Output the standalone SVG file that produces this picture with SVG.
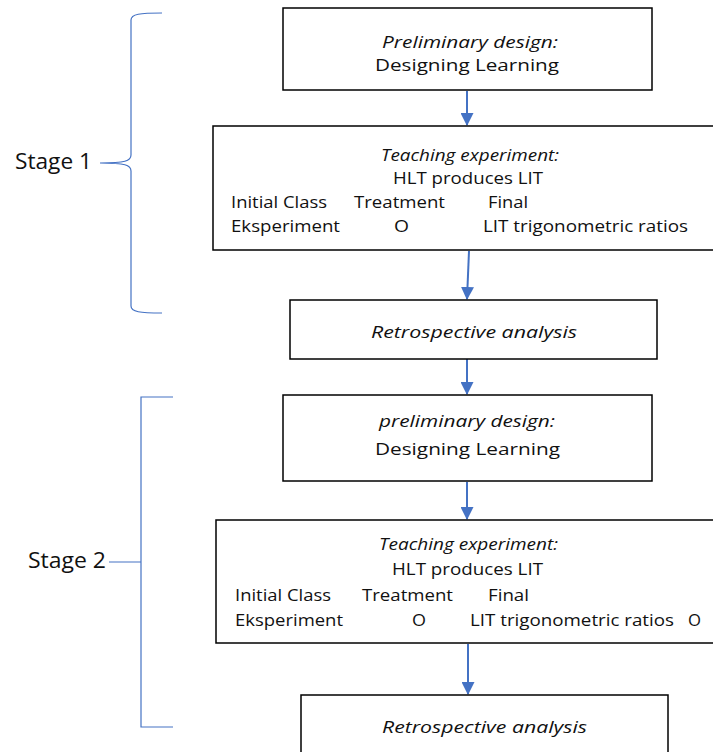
<svg xmlns="http://www.w3.org/2000/svg" width="713" height="752" viewBox="0 0 713 752">
<style>
.box{fill:#fff;stroke:#000;stroke-width:1.5}
.t{font-family:"Open Sans","Noto Sans",sans-serif;font-size:17px;fill:#111}
.s{font-size:22px}
.i{font-style:italic}
.arr{stroke:#4472C4;stroke-width:2;fill:none;marker-end:url(#ah)}
.br{stroke:#4472C4;stroke-width:1.2;fill:none}
</style>
<defs>
<marker id="ah" markerWidth="13" markerHeight="13" refX="12" refY="6.5" orient="auto" markerUnits="userSpaceOnUse">
<path d="M0,0 L13,6.5 L0,13 Z" fill="#4472C4"/>
</marker>
</defs>
<g id="connectors">
<line class="arr" x1="467" y1="91" x2="467" y2="125"/>
<line class="arr" x1="469" y1="251" x2="467" y2="299"/>
<line class="arr" x1="467" y1="354" x2="467" y2="394"/>
<line class="arr" x1="467" y1="482" x2="467" y2="519"/>
<line class="arr" x1="468" y1="644" x2="468" y2="694"/>
</g>
<g id="brace1">
<path class="br" d="M162,13 C140,13 131,14 131,20 L131,155 C131,161 125,163 100,163 C125,163 131,165 131,171 L131,306 C131,312 140,313 162,313"/>
<text class="t s" x="15" y="169" textLength="77" lengthAdjust="spacingAndGlyphs">Stage 1</text>
</g>
<g id="bracket2">
<path class="br" d="M173,397 L141,397 L141,727 L173,727 M141,562 L109,562"/>
<text class="t s" x="28" y="568" textLength="78" lengthAdjust="spacingAndGlyphs">Stage 2</text>
</g>
<g id="n1">
<rect class="box" x="283" y="8" width="369" height="82"/>
<text class="t i" x="382" y="48" textLength="176" lengthAdjust="spacingAndGlyphs">Preliminary design:</text>
<text class="t" x="375" y="71" textLength="184" lengthAdjust="spacingAndGlyphs">Designing Learning</text>
</g>
<g id="n2">
<rect class="box" x="213" y="126" width="510" height="124"/>
<text class="t i" x="381" y="161" textLength="178" lengthAdjust="spacingAndGlyphs">Teaching experiment:</text>
<text class="t" x="393" y="184" textLength="150" lengthAdjust="spacingAndGlyphs">HLT produces LIT</text>
<text class="t" x="231" y="208" textLength="96" lengthAdjust="spacingAndGlyphs">Initial Class</text>
<text class="t" x="354" y="208" textLength="91" lengthAdjust="spacingAndGlyphs">Treatment</text>
<text class="t" x="488" y="208" textLength="40" lengthAdjust="spacingAndGlyphs">Final</text>
<text class="t" x="231" y="232" textLength="109" lengthAdjust="spacingAndGlyphs">Eksperiment</text>
<text class="t" x="394" y="232" textLength="15" lengthAdjust="spacingAndGlyphs">O</text>
<text class="t" x="483" y="232" textLength="205" lengthAdjust="spacingAndGlyphs">LIT trigonometric ratios</text>
</g>
<g id="n3">
<rect class="box" x="290" y="300" width="367" height="59"/>
<text class="t i" x="371" y="338" textLength="206" lengthAdjust="spacingAndGlyphs">Retrospective analysis</text>
</g>
<g id="n4">
<rect class="box" x="283" y="395" width="369" height="86"/>
<text class="t i" x="379" y="427" textLength="176" lengthAdjust="spacingAndGlyphs">preliminary design:</text>
<text class="t" x="375" y="455" textLength="185" lengthAdjust="spacingAndGlyphs">Designing Learning</text>
</g>
<g id="n5">
<rect class="box" x="216" y="520" width="510" height="123"/>
<text class="t i" x="379" y="550" textLength="179" lengthAdjust="spacingAndGlyphs">Teaching experiment:</text>
<text class="t" x="392" y="575" textLength="151" lengthAdjust="spacingAndGlyphs">HLT produces LIT</text>
<text class="t" x="235" y="601" textLength="96" lengthAdjust="spacingAndGlyphs">Initial Class</text>
<text class="t" x="362" y="601" textLength="91" lengthAdjust="spacingAndGlyphs">Treatment</text>
<text class="t" x="488" y="601" textLength="41" lengthAdjust="spacingAndGlyphs">Final</text>
<text class="t" x="235" y="626" textLength="108" lengthAdjust="spacingAndGlyphs">Eksperiment</text>
<text class="t" x="412" y="626" textLength="14" lengthAdjust="spacingAndGlyphs">O</text>
<text class="t" x="470" y="626" textLength="204" lengthAdjust="spacingAndGlyphs">LIT trigonometric ratios</text>
<text class="t" x="688" y="626" textLength="13" lengthAdjust="spacingAndGlyphs">O</text>
</g>
<g id="n6">
<rect class="box" x="301" y="695" width="367" height="80"/>
<text class="t i" x="382" y="733" textLength="205" lengthAdjust="spacingAndGlyphs">Retrospective analysis</text>
</g>
</svg>
